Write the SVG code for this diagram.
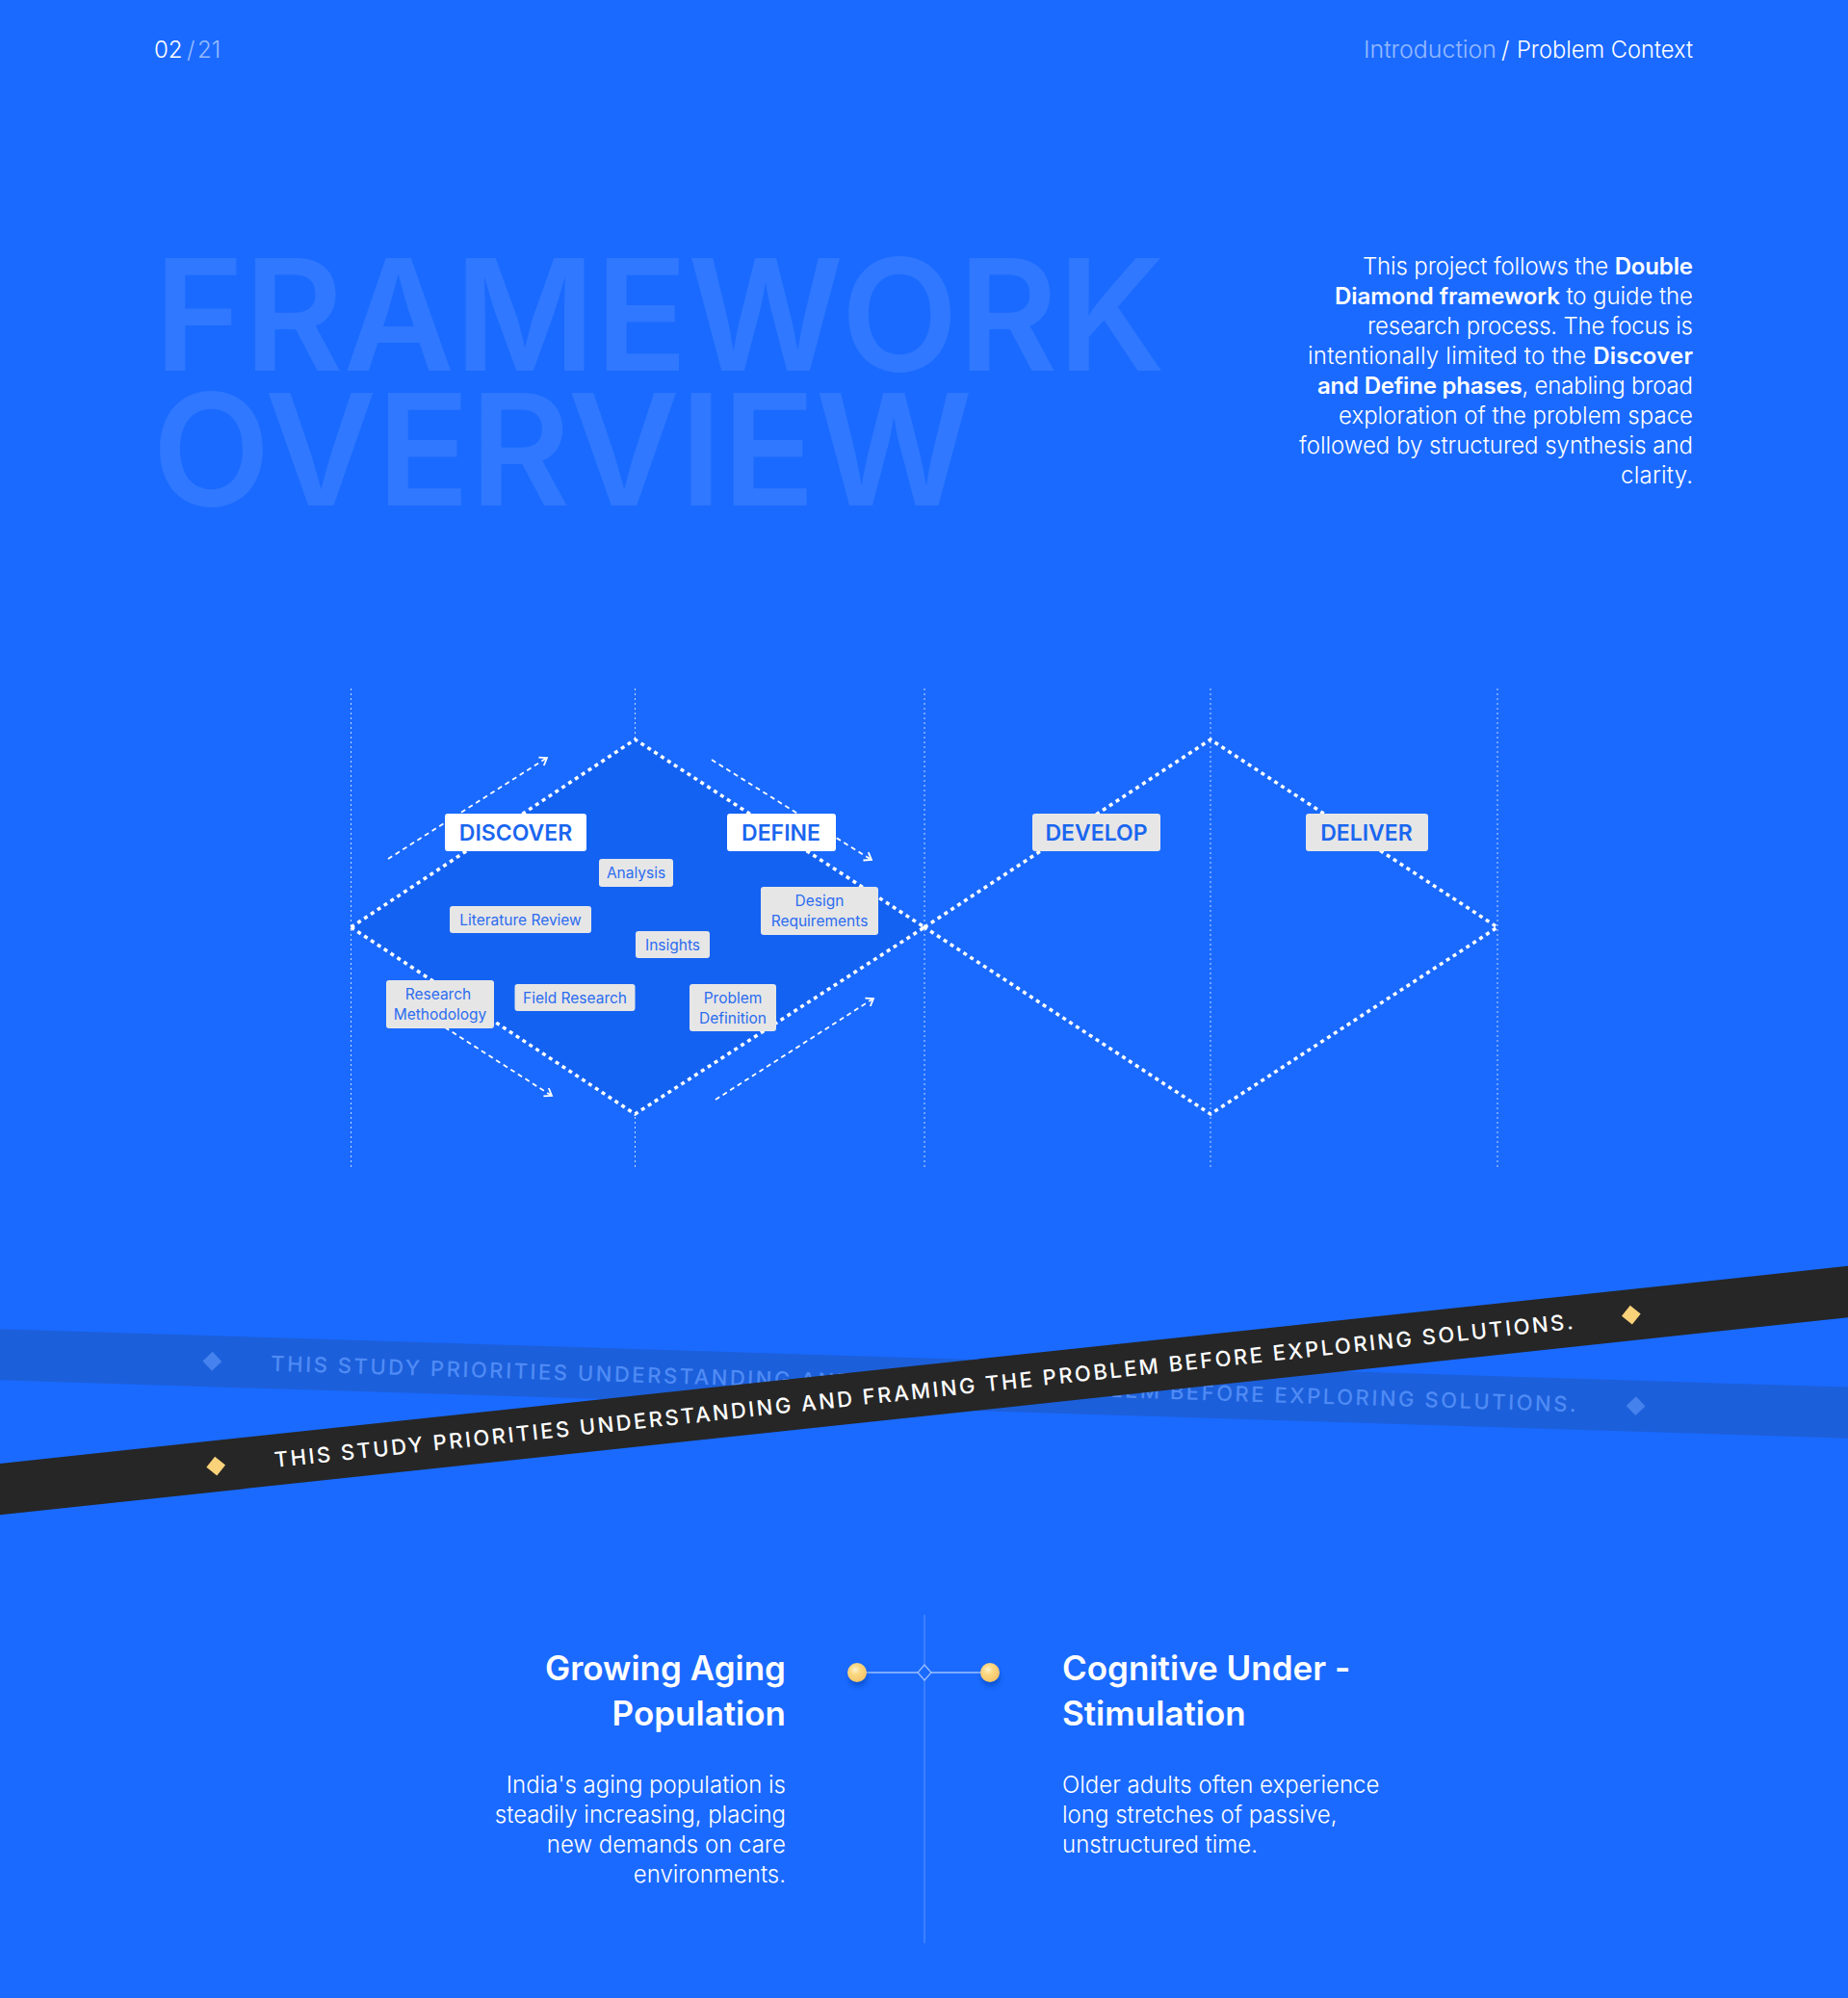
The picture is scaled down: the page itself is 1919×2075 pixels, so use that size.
<svg xmlns="http://www.w3.org/2000/svg" width="1919" height="2075" viewBox="0 0 1919 2075">
<style>
.bg{fill:#1a6aff}
.hdr{font-family:Inter,"Noto Sans",sans-serif;font-size:24px;font-weight:300;fill:#fff}
.dim{fill:#fff;fill-opacity:.55}
.big{font-family:Inter,"Noto Sans",sans-serif;font-size:161px;font-weight:600;fill:#2f78ff}
.para{font-family:Inter,"Noto Sans",sans-serif;font-size:24px;font-weight:300;fill:#fff;text-anchor:end}
.para .b{font-weight:600}
.vline{stroke:#fff;stroke-opacity:.75;stroke-width:1;stroke-dasharray:2 3;fill:none}
.dia{stroke:#fff;stroke-width:3.5;stroke-dasharray:4 4.2;fill:none}
.arr{stroke:#fff;stroke-width:1.8;stroke-dasharray:5 4;fill:none}
.phase rect{rx:3px}
.phase text{font-family:Inter,"Noto Sans",sans-serif;font-size:23px;font-weight:600;fill:#1a66f0;text-anchor:middle}
.tag rect{fill:#e6e6e6;rx:3px}
.tag text{font-family:Inter,"Noto Sans",sans-serif;font-size:15.5px;font-weight:400;fill:#2c6cf0;text-anchor:middle}
.band text{font-family:Inter,"Noto Sans",sans-serif;font-size:22px;font-weight:500;text-anchor:middle;letter-spacing:2px}
.h2{font-family:Inter,"Noto Sans",sans-serif;font-size:35px;font-weight:600;fill:#fff}
.body{font-family:Inter,"Noto Sans",sans-serif;font-size:24px;font-weight:300;fill:#fff}
</style>
<defs>
<marker id="ah" viewBox="0 0 12 12" refX="10" refY="6" markerWidth="12" markerHeight="12" markerUnits="userSpaceOnUse" orient="auto">
<path d="M3,1 L10,6 L3,11" fill="none" stroke="#fff" stroke-width="1.8"/>
</marker>
<radialGradient id="gold" cx="0.4" cy="0.35" r="0.7">
<stop offset="0" stop-color="#fff3d0"/>
<stop offset="0.35" stop-color="#fbd985"/>
<stop offset="1" stop-color="#f3c264"/>
</radialGradient>
<filter id="blur" x="-50%" y="-50%" width="200%" height="200%"><feGaussianBlur stdDeviation="2.5"/></filter>
</defs>

<rect class="bg" x="0" y="0" width="1919" height="2075"/>

<g id="header">
<text class="hdr" y="60"><tspan x="160">02</tspan><tspan class="dim" x="194">/</tspan><tspan class="dim" x="205">21</tspan></text>
<text class="hdr" y="60"><tspan class="dim" x="1416" textLength="138" lengthAdjust="spacingAndGlyphs">Introduction</tspan><tspan x="1559">/</tspan><tspan x="1575" textLength="183" lengthAdjust="spacingAndGlyphs">Problem Context</tspan></text>
</g>

<g id="title">
<text class="big" x="160" y="385" textLength="1050" lengthAdjust="spacingAndGlyphs">FRAMEWORK</text>
<text class="big" x="158" y="525" textLength="852" lengthAdjust="spacingAndGlyphs">OVERVIEW</text>
</g>

<g id="intro">
<text class="para" x="1758" y="285" textLength="343">This project follows the <tspan class="b">Double</tspan></text>
<text class="para" x="1758" y="316" textLength="372"><tspan class="b">Diamond framework</tspan> to guide the</text>
<text class="para" x="1758" y="347" textLength="338">research process. The focus is</text>
<text class="para" x="1758" y="378" textLength="400">intentionally limited to the <tspan class="b">Discover</tspan></text>
<text class="para" x="1758" y="409" textLength="390"><tspan class="b">and Define phases</tspan>, enabling broad</text>
<text class="para" x="1758" y="440" textLength="368">exploration of the problem space</text>
<text class="para" x="1758" y="471" textLength="409">followed by structured synthesis and</text>
<text class="para" x="1758" y="502" textLength="75">clarity.</text>
</g>

<g id="connectors">
<g id="guides">
<line class="vline" x1="364.5" y1="715" x2="364.5" y2="1212"/>
<line class="vline" x1="659.5" y1="715" x2="659.5" y2="1212"/>
<line class="vline" x1="960" y1="715" x2="960" y2="1212"/>
<line class="vline" x1="1257" y1="715" x2="1257" y2="1212"/>
<line class="vline" x1="1555" y1="715" x2="1555" y2="1212"/>
</g>
<polygon points="364.5,963 659.5,768 960,963 659.5,1157" fill="#1462f2"/>
<polygon class="dia" points="364.5,963 659.5,768 960,963 659.5,1157"/>
<polygon class="dia" points="960,963 1257,768 1555,963 1257,1157"/>
<line class="arr" x1="403" y1="892" x2="568" y2="787" marker-end="url(#ah)"/>
<line class="arr" x1="739" y1="789" x2="905" y2="893" marker-end="url(#ah)"/>
<line class="arr" x1="409" y1="1033" x2="573" y2="1138" marker-end="url(#ah)"/>
<line class="arr" x1="743" y1="1142" x2="907" y2="1037" marker-end="url(#ah)"/>
</g>

<g id="discover" class="phase"><rect x="462" y="845" width="147" height="39" fill="#fff"/><text x="535.5" y="873">DISCOVER</text></g>
<g id="define" class="phase"><rect x="755" y="845" width="113" height="39" fill="#fff"/><text x="811" y="873">DEFINE</text></g>
<g id="develop" class="phase"><rect x="1072" y="845" width="133" height="39" fill="#e6e6e6"/><text x="1138.5" y="873">DEVELOP</text></g>
<g id="deliver" class="phase"><rect x="1356" y="845" width="127" height="39" fill="#e6e6e6"/><text x="1419" y="873">DELIVER</text></g>

<g id="analysis" class="tag"><rect x="622" y="892" width="77" height="29"/><text x="660.5" y="912">Analysis</text></g>
<g id="literature-review" class="tag"><rect x="467" y="941" width="147" height="28"/><text x="540.5" y="961">Literature Review</text></g>
<g id="insights" class="tag"><rect x="660" y="967" width="77" height="28"/><text x="698.5" y="987">Insights</text></g>
<g id="design-requirements" class="tag"><rect x="790" y="921" width="122" height="50"/><text x="851" y="941">Design</text><text x="851" y="962">Requirements</text></g>
<g id="research-methodology" class="tag"><rect x="401" y="1018" width="112" height="50"/><text x="455" y="1038">Research</text><text x="457" y="1059">Methodology</text></g>
<g id="field-research" class="tag"><rect x="534.5" y="1022" width="125" height="28"/><text x="597" y="1042">Field Research</text></g>
<g id="problem-definition" class="tag"><rect x="716" y="1022" width="90" height="49"/><text x="761" y="1042">Problem</text><text x="761" y="1063">Definition</text></g>

<g id="band-faded" class="band" transform="translate(960 1437) rotate(1.8)">
<rect x="-1150" y="-26.5" width="2300" height="53" fill="#1c5fda"/>
<rect x="-7" y="-7" width="14" height="14" fill="#4a86f0" fill-opacity=".9" transform="translate(-740 0) rotate(45)"/>
<rect x="-7" y="-7" width="14" height="14" fill="#4a86f0" fill-opacity=".9" transform="translate(739 0) rotate(45)"/>
<text x="0" y="8" fill="#4f8bf5" textLength="1358" lengthAdjust="spacing">THIS STUDY PRIORITIES UNDERSTANDING AND FRAMING THE PROBLEM BEFORE EXPLORING SOLUTIONS.</text>
</g>

<g id="band" class="band" transform="translate(960 1444) rotate(-6.1)">
<rect x="-1150" y="-26.5" width="2300" height="53" fill="#262626"/>
<rect x="-7" y="-7" width="14" height="14" fill="#fad27a" transform="translate(-740 0) rotate(45)"/>
<rect x="-7" y="-7" width="14" height="14" fill="#fad27a" transform="translate(738 0) rotate(45)"/>
<text x="0" y="8" fill="#fff" textLength="1358" lengthAdjust="spacing">THIS STUDY PRIORITIES UNDERSTANDING AND FRAMING THE PROBLEM BEFORE EXPLORING SOLUTIONS.</text>
</g>

<g id="timeline">
<line x1="960" y1="1677" x2="960" y2="2018" stroke="#7aa8ff" stroke-opacity=".7" stroke-width="1"/>
<line x1="890" y1="1737" x2="1028" y2="1737" stroke="#9ec0ff" stroke-width="1.5"/>
<polygon points="960,1729 967,1737 960,1745 953,1737" fill="#1a6aff" stroke="#9ec0ff" stroke-width="1.2"/>
<circle cx="891" cy="1742" r="10" fill="#0b46b8" fill-opacity=".55" filter="url(#blur)"/>
<circle cx="1029" cy="1742" r="10" fill="#0b46b8" fill-opacity=".55" filter="url(#blur)"/>
<circle cx="890" cy="1737" r="10" fill="url(#gold)"/>
<circle cx="1028" cy="1737" r="10" fill="url(#gold)"/>
</g>

<g id="growing-aging">
<text class="h2" x="816" y="1745" text-anchor="end">Growing Aging</text>
<text class="h2" x="816" y="1792" text-anchor="end">Population</text>
<text class="body" x="816" y="1862" text-anchor="end">India's aging population is</text>
<text class="body" x="816" y="1893" text-anchor="end">steadily increasing, placing</text>
<text class="body" x="816" y="1924" text-anchor="end">new demands on care</text>
<text class="body" x="816" y="1955" text-anchor="end">environments.</text>
</g>

<g id="cognitive">
<text class="h2" x="1103" y="1745">Cognitive Under -</text>
<text class="h2" x="1103" y="1792">Stimulation</text>
<text class="body" x="1103" y="1862">Older adults often experience</text>
<text class="body" x="1103" y="1893">long stretches of passive,</text>
<text class="body" x="1103" y="1924">unstructured time.</text>
</g>
</svg>
